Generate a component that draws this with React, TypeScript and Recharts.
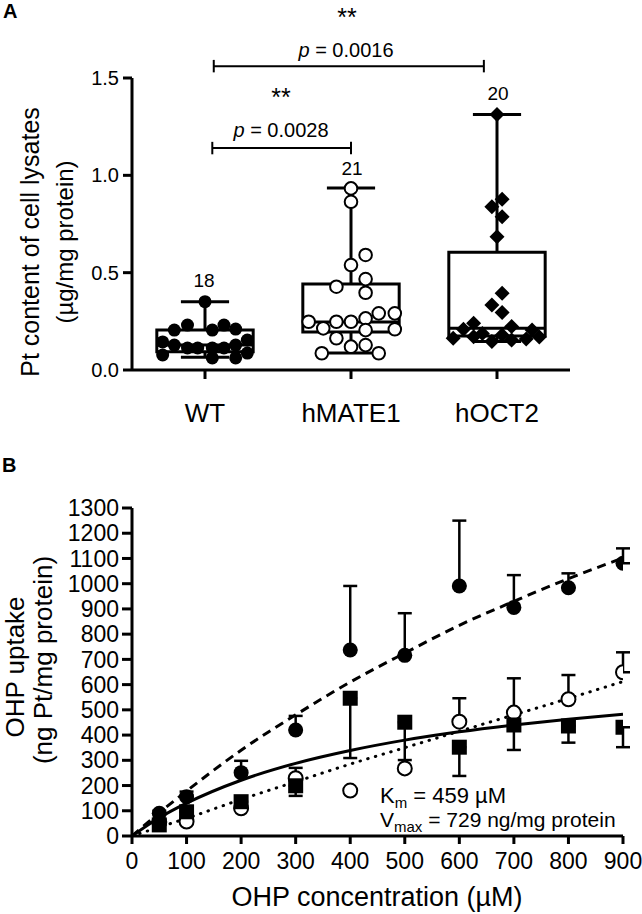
import React from 'react';
import {
  ComposedChart,
  Scatter,
  Line,
  XAxis,
  YAxis,
  ReferenceArea,
  ReferenceLine,
  ErrorBar,
} from 'recharts';

// ---- Panel A: Pt content of cell lysates (box plots + individual points)
const groups = ['WT', 'hMATE1', 'hOCT2'];
const groupN = [18, 21, 20];
const boxMin = [0.065, 0.087, 0.146];
const boxQ1 = [0.094, 0.195, 0.175];
const boxMedian = [0.128, 0.247, 0.215];
const boxQ3 = [0.205, 0.442, 0.605];
const boxMax = [0.351, 0.935, 1.313];

const wtValues = [0.351, 0.205, 0.231, 0.205, 0.231, 0.21, 0.144, 0.128, 0.113, 0.113, 0.113, 0.113, 0.128, 0.154, 0.077, 0.062, 0.062, 0.087];
const wtSpread = [0, -0.21, -0.12, 0.05, 0.13, 0.21, -0.29, -0.21, -0.12, -0.05, 0.05, 0.13, 0.21, 0.29, -0.29, 0.05, 0.21, 0.29];

const mateValues = [0.933, 0.864, 0.591, 0.539, 0.467, 0.428, 0.397, 0.248, 0.214, 0.248, 0.248, 0.265, 0.291, 0.291, 0.209, 0.205, 0.163, 0.128, 0.12, 0.086, 0.086];
const mateSpread = [0, 0, 0.1, 0, 0.1, -0.1, 0.1, -0.29, -0.19, -0.1, 0, 0.1, 0.19, 0.3, 0.3, 0.1, -0.1, 0.1, 0, -0.2, 0.19];

const octValues = [1.313, 0.877, 0.839, 0.787, 0.685, 0.394, 0.334, 0.296, 0.223, 0.24, 0.209, 0.163, 0.171, 0.188, 0.146, 0.18, 0.154, 0.159, 0.17, 0.205];
const octSpread = [0, 0.035, -0.035, 0.035, 0, 0.035, -0.035, 0.035, 0.1, -0.16, -0.23, -0.3, -0.16, -0.1, -0.035, 0.035, 0.1, 0.2, 0.29, 0.24];

// significance brackets
const bracketFrom = [0.05, 0.06];
const bracketTo = [1.0, 1.91];
const bracketY = [1.14, 1.561];

// ---- Panel B: OHP uptake vs concentration
const concentrations = [50, 100, 200, 300, 400, 500, 600, 700, 800, 900];
const filledMeans = [90, 156, 251, 420, 737, 716, 991, 906, 984, 1081];
const filledErrUp = [10, 20, 47, 56, 254, 167, 259, 128, 57, 59];
const openMeans = [55, 57, 110, 229, 180, 268, 453, 489, 542, 649];
const openErrUp = [0, 0, 0, 41, 0, 0, 93, 136, 96, 79];
const squareMeans = [44, 96, 136, 199, 546, 451, 352, 440, 436, 431];
const squareErrDown = [0, 0, 0, 40, 237, 150, 114, 99, 66, 79];

const fitX = [0, 50, 100, 200, 300, 400, 500, 600, 700, 800, 900];
const fitFilled = [0, 92, 178, 340, 480, 610, 725, 835, 930, 1020, 1102];
const fitOpen = [0, 35, 70, 145, 215, 285, 350, 415, 480, 545, 612];
const fitSquare = [0, 72, 130, 221, 288, 339, 380, 413, 440, 463, 483];

const yTicksA = [0, 0.5, 1, 1.5];
const xTicksB = [0, 100, 200, 300, 400, 500, 600, 700, 800, 900];
const yTicksB = [0, 100, 200, 300, 400, 500, 600, 700, 800, 900, 1000, 1100, 1200, 1300];

const FONT = '"Liberation Sans", Arial, Helvetica, sans-serif';

const wtData = wtValues.map((y, i) => ({ x: 0 + wtSpread[i], y }));
const mateData = mateValues.map((y, i) => ({ x: 1 + mateSpread[i], y }));
const octData = octValues.map((y, i) => ({ x: 2 + octSpread[i], y }));

const filledData = concentrations.map((x, i) => ({ x, y: filledMeans[i], err: [0, filledErrUp[i]] }));
const openData = concentrations.map((x, i) => ({ x, y: openMeans[i], err: [0, openErrUp[i]] }));
const squareData = concentrations.map((x, i) => ({ x, y: squareMeans[i], err: [squareErrDown[i], 0] }));
const curveFilled = fitX.map((x, i) => ({ x, y: fitFilled[i] }));
const curveOpen = fitX.map((x, i) => ({ x, y: fitOpen[i] }));
const curveSquare = fitX.map((x, i) => ({ x, y: fitSquare[i] }));

const FilledDot = (p: any) => <circle cx={p.cx} cy={p.cy} r={6.5} fill="#000" />;
const OpenDot = (p: any) => <circle cx={p.cx} cy={p.cy} r={6.3} fill="#fff" stroke="#000" strokeWidth={2} />;
const Diamond = (p: any) => (
  <path d={`M${p.cx},${p.cy - 7.5}L${p.cx + 7.5},${p.cy}L${p.cx},${p.cy + 7.5}L${p.cx - 7.5},${p.cy}Z`} fill="#000" />
);
const BigDot = (p: any) => <circle cx={p.cx} cy={p.cy} r={7.5} fill="#000" />;
const BigOpen = (p: any) => <circle cx={p.cx} cy={p.cy} r={7} fill="#fff" stroke="#000" strokeWidth={2} />;
const Square = (p: any) => <rect x={p.cx - 7.5} y={p.cy - 7.5} width={15} height={15} fill="#000" />;

const axisStyle = { stroke: '#000', strokeWidth: 3 };

function PanelA() {
  return (
    <ComposedChart width={642} height={440} margin={{ top: 78, right: 72, bottom: 30, left: 0 }}>
      <XAxis
        type="number"
        dataKey="x"
        domain={[-0.5, 2.5]}
        ticks={[0, 1, 2]}
        tickFormatter={(i: number) => groups[i]}
        axisLine={axisStyle}
        tickLine={axisStyle}
        tickSize={9}
        tickMargin={25}
        tick={{ fill: '#000', fontSize: 26 }}
        height={40}
        allowDataOverflow
      />
      <YAxis
        type="number"
        dataKey="y"
        domain={[0, 1.5]}
        ticks={yTicksA}
        tickFormatter={(v: number) => v.toFixed(1)}
        axisLine={axisStyle}
        tickLine={axisStyle}
        tickSize={9}
        tickMargin={4}
        tick={{ fill: '#000', fontSize: 20 }}
        width={132}
        allowDataOverflow
      />
      {groups.map((g, i) => (
        <ReferenceArea
          key={'box' + g}
          x1={i - 0.33}
          x2={i + 0.33}
          y1={boxQ1[i]}
          y2={boxQ3[i]}
          fill="#fff"
          fillOpacity={0}
          stroke="#000"
          strokeWidth={3}
          strokeOpacity={1}
          ifOverflow="visible"
        />
      ))}
      {groups.map((g, i) => (
        <ReferenceLine key={'med' + g} segment={[{ x: i - 0.33, y: boxMedian[i] }, { x: i + 0.33, y: boxMedian[i] }]} stroke="#000" strokeWidth={3} ifOverflow="visible" />
      ))}
      {groups.map((g, i) => (
        <ReferenceLine key={'wu' + g} segment={[{ x: i, y: boxQ3[i] }, { x: i, y: boxMax[i] }]} stroke="#000" strokeWidth={3} ifOverflow="visible" />
      ))}
      {groups.map((g, i) => (
        <ReferenceLine key={'wl' + g} segment={[{ x: i, y: boxQ1[i] }, { x: i, y: boxMin[i] }]} stroke="#000" strokeWidth={3} ifOverflow="visible" />
      ))}
      {groups.map((g, i) => (
        <ReferenceLine key={'cu' + g} segment={[{ x: i - 0.165, y: boxMax[i] }, { x: i + 0.165, y: boxMax[i] }]} stroke="#000" strokeWidth={3} ifOverflow="visible" />
      ))}
      {groups.map((g, i) => (
        <ReferenceLine key={'cl' + g} segment={[{ x: i - 0.165, y: boxMin[i] }, { x: i + 0.165, y: boxMin[i] }]} stroke="#000" strokeWidth={3} ifOverflow="visible" />
      ))}
      {bracketY.map((by, k) => (
        <ReferenceLine key={'br' + k} segment={[{ x: bracketFrom[k], y: by }, { x: bracketTo[k], y: by }]} stroke="#000" strokeWidth={2} ifOverflow="visible" />
      ))}
      {bracketY.map((by, k) => (
        <ReferenceLine key={'bl' + k} segment={[{ x: bracketFrom[k], y: by - 0.032 }, { x: bracketFrom[k], y: by + 0.032 }]} stroke="#000" strokeWidth={2} ifOverflow="visible" />
      ))}
      {bracketY.map((by, k) => (
        <ReferenceLine key={'bt' + k} segment={[{ x: bracketTo[k], y: by - 0.032 }, { x: bracketTo[k], y: by + 0.032 }]} stroke="#000" strokeWidth={2} ifOverflow="visible" />
      ))}
      <Scatter data={wtData} dataKey="y" shape={FilledDot} isAnimationActive={false} />
      <Scatter data={mateData} dataKey="y" shape={OpenDot} isAnimationActive={false} />
      <Scatter data={octData} dataKey="y" shape={Diamond} isAnimationActive={false} />
    </ComposedChart>
  );
}

function PanelB() {
  return (
    <ComposedChart width={642} height={474} margin={{ top: 68, right: 19, bottom: 28, left: 0 }}>
      <XAxis
        type="number"
        dataKey="x"
        domain={[0, 900]}
        ticks={xTicksB}
        interval={0}
        axisLine={axisStyle}
        tickLine={axisStyle}
        tickSize={8}
        tickMargin={9}
        tick={{ fill: '#000', fontSize: 23 }}
        height={50}
        allowDataOverflow
      />
      <YAxis
        type="number"
        dataKey="y"
        domain={[0, 1300]}
        ticks={yTicksB}
        interval={0}
        axisLine={axisStyle}
        tickLine={axisStyle}
        tickSize={10}
        tickMargin={3}
        tick={{ fill: '#000', fontSize: 23 }}
        width={132}
        allowDataOverflow
      />
      <Line data={curveFilled} dataKey="y" type="monotone" stroke="#000" strokeWidth={3} strokeDasharray="9 6" dot={false} isAnimationActive={false} />
      <Line data={curveOpen} dataKey="y" type="monotone" stroke="#000" strokeWidth={3} strokeDasharray="0.5 7.5" strokeLinecap="round" dot={false} isAnimationActive={false} />
      <Line data={curveSquare} dataKey="y" type="monotone" stroke="#000" strokeWidth={3} dot={false} isAnimationActive={false} />
      <Scatter data={openData} dataKey="y" shape={BigOpen} isAnimationActive={false}>
        <ErrorBar dataKey="err" direction="y" width={7} stroke="#000" strokeWidth={2.5} />
      </Scatter>
      <Scatter data={squareData} dataKey="y" shape={Square} isAnimationActive={false}>
        <ErrorBar dataKey="err" direction="y" width={7} stroke="#000" strokeWidth={2.5} />
      </Scatter>
      <Scatter data={filledData} dataKey="y" shape={BigDot} isAnimationActive={false}>
        <ErrorBar dataKey="err" direction="y" width={7} stroke="#000" strokeWidth={2.5} />
      </Scatter>
    </ComposedChart>
  );
}

export default function App() {
  return (
    <div style={{ position: 'absolute', left: 0, top: 0, width: 642, height: 914, background: '#fff', fontFamily: FONT, overflow: 'hidden' }}>
      <div style={{ position: 'absolute', left: 0, top: 0 }}>
        <PanelA />
      </div>
      <div style={{ position: 'absolute', left: 0, top: 440 }}>
        <PanelB />
      </div>
      <svg width={642} height={914} style={{ position: 'absolute', left: 0, top: 0, pointerEvents: 'none' }} fontFamily={FONT} fill="#000">
        <text x={3} y={18} fontSize={20} fontWeight="bold">A</text>
        <text x={2} y={472} fontSize={20} fontWeight="bold">B</text>

        <text x={347} y={26} fontSize={25} textAnchor="middle">**</text>
        <text x={346} y={57} fontSize={20} textAnchor="middle"><tspan fontStyle="italic">p</tspan> = 0.0016</text>
        <text x={281} y={106} fontSize={25} textAnchor="middle">**</text>
        <text x={281} y={137} fontSize={20} textAnchor="middle"><tspan fontStyle="italic">p</tspan> = 0.0028</text>
        <text x={204} y={287} fontSize={19} textAnchor="middle">{groupN[0]}</text>
        <text x={352} y={175} fontSize={19} textAnchor="middle">{groupN[1]}</text>
        <text x={498} y={100} fontSize={19} textAnchor="middle">{groupN[2]}</text>

        <text transform="translate(39,242) rotate(-90)" fontSize={25} textAnchor="middle">Pt content of cell lysates</text>
        <text transform="translate(73,242) rotate(-90)" fontSize={24} textAnchor="middle">(µg/mg protein)</text>

        <text transform="translate(24,667) rotate(-90)" fontSize={26} textAnchor="middle">OHP uptake</text>
        <text transform="translate(52,660) rotate(-90)" fontSize={26} textAnchor="middle">(ng Pt/mg protein)</text>
        <text x={377} y={906} fontSize={27} textAnchor="middle">OHP concentration (µM)</text>

        <text x={380} y={803} fontSize={22}>K<tspan fontSize={15} dy={5}>m</tspan><tspan dy={-5}> = 459 µM</tspan></text>
        <text x={380} y={827} fontSize={21}>V<tspan fontSize={15} dy={5}>max</tspan><tspan dy={-5}> = 729 ng/mg protein</tspan></text>
      </svg>
    </div>
  );
}
